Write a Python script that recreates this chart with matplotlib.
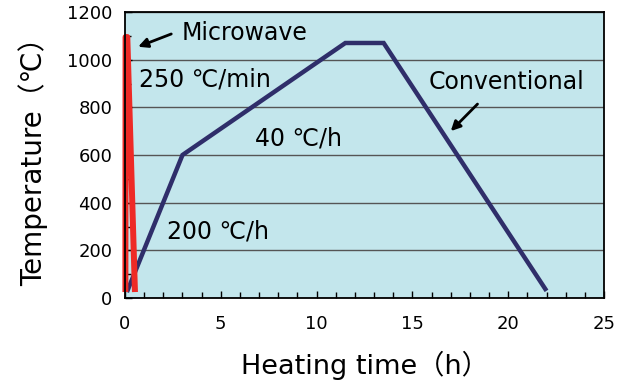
import matplotlib.pyplot as plt
from matplotlib.ticker import MultipleLocator

plt.rcParams['font.family'] = ['DejaVu Sans', 'Noto Sans CJK JP']

# data
conv_time = [0.1, 3.0, 11.5, 13.5, 22.0]
conv_temp = [25, 600, 1070, 1070, 30]
mw_time = [0.02, 0.03, 0.12, 0.52]
mw_temp = [25, 1095, 1095, 25]

fig = plt.figure(figsize=(6.28, 3.87), dpi=100)
ax = fig.add_axes([125 / 628, 1 - 298 / 387, 479 / 628, 286 / 387])
ax.set_facecolor('#C3E6EC')

ax.set_xlim(0, 25)
ax.set_ylim(0, 1200)
ax.xaxis.set_major_locator(MultipleLocator(5))
ax.xaxis.set_minor_locator(MultipleLocator(1))
ax.yaxis.set_major_locator(MultipleLocator(200))
ax.yaxis.set_minor_locator(MultipleLocator(100))
ax.grid(axis='y', color='#555555', lw=1.0)
ax.set_axisbelow(True)

ax.tick_params(which='both', direction='in', labelsize=13, color='black')
ax.tick_params(which='major', length=5, width=1)
ax.tick_params(which='minor', length=4, width=1)
ax.tick_params(axis='x', pad=12)
ax.tick_params(axis='y', pad=9)
for s in ax.spines.values():
    s.set_linewidth(1.3)

ax.plot(conv_time, conv_temp, color='#2F2E6A', lw=3.2, solid_joinstyle='miter',
        solid_capstyle='butt', clip_on=False)
ax.plot(mw_time, mw_temp, color='#EE2A26', lw=4.3, solid_joinstyle='round',
        solid_capstyle='butt', clip_on=False)

ax.set_xlabel('Heating time（h）', fontsize=19.5, labelpad=13)
ax.set_ylabel('Temperature（℃）', fontsize=20, labelpad=14)

ax.text(2.95, 1112, 'Microwave', fontsize=17, va='center', ha='left')
ax.annotate('', xy=(0.55, 1050), xytext=(2.55, 1112),
            arrowprops=dict(arrowstyle='-|>', color='black', lw=2, mutation_scale=14))
ax.text(19.9, 905, 'Conventional', fontsize=17, va='center', ha='center')
ax.annotate('', xy=(16.9, 692), xytext=(18.5, 822),
            arrowprops=dict(arrowstyle='-|>', color='black', lw=2, mutation_scale=14))

ax.text(0.75, 915, '250 ℃/min', fontsize=17, va='center', ha='left')
ax.text(6.8, 671, '40 ℃/h', fontsize=17, va='center', ha='left')
ax.text(2.2, 277, '200 ℃/h', fontsize=17, va='center', ha='left')

fig.savefig('out.png', dpi=100)
